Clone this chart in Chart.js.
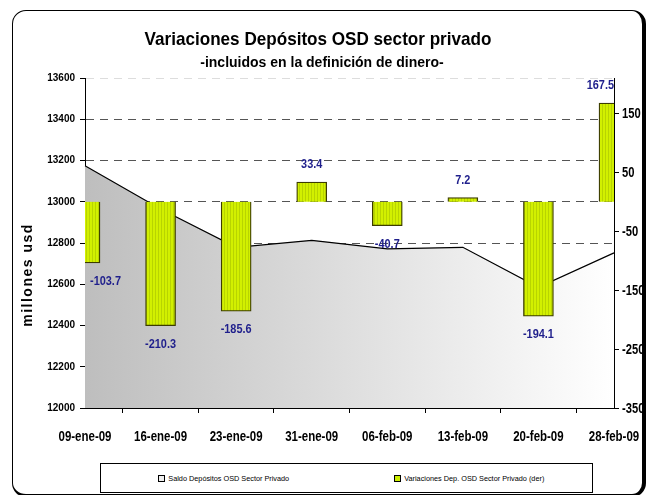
<!DOCTYPE html>
<html>
<head>
<meta charset="utf-8">
<script src="https://cdn.jsdelivr.net/npm/chart.js@4.4.1/dist/chart.umd.min.js"></script>
<style>
    html, body { margin: 0; padding: 0; background: #fff; }
    #wrap { position: relative; width: 652px; height: 495px; overflow: hidden; }
    #marco {
        position: absolute; left: 12px; top: 10px; width: 634px; height: 487px;
        box-sizing: border-box; border: 1px solid #000; border-right-width: 4px;
        border-bottom-width: 3px; border-radius: 14px;
    }
    #grafico { position: absolute; left: 0; top: 0; }
    #leyenda {
        position: absolute; left: 100px; top: 463px; width: 493px; height: 30px;
        box-sizing: border-box; border: 1px solid #000; background: #fff;
        display: flex; align-items: center;
        font: 7.3px 'Liberation Sans', Arial, sans-serif; color: #000;
    }
    #leyenda .item { flex: 1; text-align: center; }
    #leyenda .marca {
        display: inline-block; width: 5px; height: 5px; border: 1px solid #000;
        vertical-align: -1px; margin-right: 3px;
    }
</style>
</head>
<body>
<div id="wrap">
    <div id="marco"></div>
    <canvas id="grafico" width="652" height="495"></canvas>
    <div id="leyenda"></div>
</div>
<script>
const SANS = "'Liberation Sans', Arial, sans-serif"

const fechas = ['09-ene-09', '16-ene-09', '23-ene-09', '31-ene-09', '06-feb-09', '13-feb-09', '20-feb-09', '28-feb-09']
// saldo en millones usd (eje izquierdo)
const saldo = [13175, 12965, 12779, 12813, 12772, 12779, 12585, 12752]
// variaciones semanales (eje derecho)
const variaciones = [-103.7, -210.3, -185.6, 33.4, -40.7, 7.2, -194.1, 167.5]
const ticksDer = [-350, -250, -150, -50, 50, 150]

const nombreSaldo = 'Saldo Depósitos OSD Sector Privado'
const nombreVar = 'Variaciones Dep. OSD Sector Privado (der)'

// texto comprimido horizontalmente (la fuente original es angosta)
const textoAngosto = (ctx, txt, x, y, escala) => {
    ctx.save()
    ctx.translate(x, y)
    ctx.scale(escala, 1)
    ctx.fillText(txt, 0, 0)
    ctx.restore()
}

// relleno rayado de las barras
const rayas = document.createElement('canvas')
rayas.width = 3
rayas.height = 4
const rctx = rayas.getContext('2d')
rctx.fillStyle = '#d2f000'
rctx.fillRect(0, 0, 3, 4)
rctx.fillStyle = '#b8d400'
rctx.fillRect(2, 0, 1, 4)
const patronBarras = rctx.createPattern(rayas, 'repeat')

const textos = {
    id: 'textos',
    afterDraw(chart) {
        const { ctx, chartArea, scales } = chart
        ctx.save()
        ctx.fillStyle = '#000'
        ctx.textAlign = 'center'
        ctx.textBaseline = 'alphabetic'
        ctx.font = 'bold 19px ' + SANS
        textoAngosto(ctx, 'Variaciones Depósitos OSD sector privado', 318, 45, 0.9)
        ctx.font = 'bold 14px ' + SANS
        ctx.fillText('-incluidos en la definición de dinero-', 322, 67)

        // etiquetas del eje x
        ctx.font = 'bold 14px ' + SANS
        scales.x.ticks.forEach((t, i) => {
            const x = scales.x.getPixelForTick(i)
            textoAngosto(ctx, scales.x.getLabelForValue(t.value), x, chartArea.bottom + 33, 0.82)
        })

        // etiquetas del eje derecho
        ctx.textAlign = 'left'
        ctx.textBaseline = 'middle'
        scales.y1.ticks.forEach((t) => {
            const y = scales.y1.getPixelForValue(t.value)
            textoAngosto(ctx, String(t.value), chartArea.right + 8, y + 1, 0.8)
        })

        ctx.textAlign = 'center'
        ctx.translate(28, 275)
        ctx.rotate(-Math.PI / 2)
        ctx.font = 'bold 14px ' + SANS
        ctx.letterSpacing = '1.5px'
        ctx.fillText('millones usd', 0, 0)
        ctx.restore()
    }
}

const etiquetas = {
    id: 'etiquetas',
    afterDatasetsDraw(chart) {
        const { ctx, chartArea } = chart
        const meta = chart.getDatasetMeta(0)
        ctx.save()
        ctx.font = 'bold 13px ' + SANS
        ctx.fillStyle = '#1f1f8c'
        ctx.textAlign = 'center'
        meta.data.forEach((bar, i) => {
            const v = variaciones[i]
            const txt = v.toFixed(1)
            const w = ctx.measureText(txt).width * 0.84
            let x = Math.max(bar.x, chartArea.left + 5 + w / 2)
            x = Math.min(x, chartArea.right - w / 2)
            if (v < 0) {
                ctx.textBaseline = 'top'
                textoAngosto(ctx, txt, x, bar.y + 12, 0.84)
            } else {
                ctx.textBaseline = 'alphabetic'
                textoAngosto(ctx, txt, x, bar.y - 14, 0.84)
            }
        })
        ctx.restore()
    }
}

const lienzo = document.getElementById('grafico')
const grafico = new Chart(lienzo, {
    data: {
        labels: fechas,
        datasets: [
            {
                type: 'bar',
                label: nombreVar,
                data: variaciones,
                yAxisID: 'y1',
                order: 0,
                barThickness: 30,
                backgroundColor: patronBarras,
                borderColor: '#3c3c00',
                borderWidth: 1.3,
                clip: 0
            },
            {
                type: 'line',
                label: nombreSaldo,
                data: saldo,
                yAxisID: 'y',
                order: 1,
                borderColor: '#000',
                borderWidth: 1.2,
                pointRadius: 0,
                tension: 0,
                fill: 'start',
                backgroundColor: (c) => {
                    const area = c.chart.chartArea
                    if (!area) return '#c8c8c8'
                    const g = c.chart.ctx.createLinearGradient(area.left, 0, area.right, 0)
                    g.addColorStop(0, '#bebebe')
                    g.addColorStop(1, '#ffffff')
                    return g
                }
            }
        ]
    },
    options: {
        responsive: false,
        animation: false,
        devicePixelRatio: 1,
        layout: { padding: { top: 78, left: 0, right: 0, bottom: 0 } },
        plugins: {
            legend: { display: false },
            tooltip: { enabled: false }
        },
        scales: {
            x: {
                type: 'category',
                offset: false,
                afterFit: (s) => { s.height = 87 },
                grid: { display: true, drawOnChartArea: false, tickLength: 5, tickColor: '#000' },
                border: { color: '#000', width: 1 },
                ticks: { display: false, autoSkip: false }
            },
            y: {
                position: 'left',
                min: 12000,
                max: 13600,
                afterFit: (s) => { s.width = 85 },
                grid: {
                    color: (c) => (c.tick && c.tick.value === 13600 ? '#dddddd' : '#555555'),
                    tickLength: 5,
                    tickColor: '#000'
                },
                border: { color: '#000', width: 1, dash: [8, 6] },
                ticks: {
                    stepSize: 200, color: '#000', padding: 5,
                    callback: (v) => String(v),
                    font: { family: SANS, size: 10, weight: 'bold' }
                }
            },
            y1: {
                position: 'right',
                min: -350,
                max: 210,
                afterFit: (s) => { s.width = 38 },
                afterBuildTicks: (s) => { s.ticks = ticksDer.map((v) => ({ value: v })) },
                grid: { drawOnChartArea: false, tickLength: 5, tickColor: '#000' },
                border: { color: '#000', width: 1 },
                ticks: { display: false }
            }
        }
    },
    plugins: [textos, etiquetas]
})

// leyenda a partir de los datasets
const leyenda = document.getElementById('leyenda')
const coloresMarca = ['#eeeeee', '#ccee00']
const ordenLeyenda = [1, 0]
ordenLeyenda.forEach((idx, k) => {
    const ds = grafico.data.datasets[idx]
    const item = document.createElement('div')
    item.className = 'item'
    const marca = document.createElement('span')
    marca.className = 'marca'
    marca.style.background = coloresMarca[k]
    item.appendChild(marca)
    item.appendChild(document.createTextNode(ds.label))
    leyenda.appendChild(item)
})
</script>
</body>
</html>
